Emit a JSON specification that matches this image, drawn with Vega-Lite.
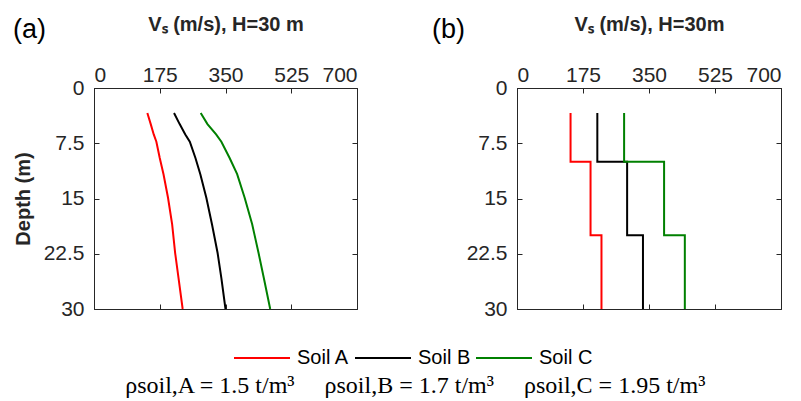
{
  "$schema": "https://vega.github.io/schema/vega-lite/v6.json",
  "background": "white",
  "padding": {"left": 12, "top": 13, "right": 5, "bottom": 0},
  "config": {
    "font": "Liberation Sans",
    "view": {"stroke": "#262626", "strokeWidth": 1},
    "axis": {
      "grid": false,
      "domainColor": "#262626",
      "tickColor": "#262626",
      "labelColor": "#262626",
      "titleColor": "#262626",
      "labelFontSize": 21,
      "titleFontSize": 20,
      "titleFontWeight": "bold",
      "tickSize": -5,
      "labelPadding": 8
    },
    "axisTop": {"titlePadding": 30},
    "axisLeft": {"titlePadding": 10, "labelPadding": 15}
  },
  "datasets": {
    "profiles": [
      {"panel": "a", "soil": "Soil A", "seq": 1, "depth": 3.4, "vs": 142},
      {"panel": "a", "soil": "Soil A", "seq": 2, "depth": 4.9, "vs": 151},
      {"panel": "a", "soil": "Soil A", "seq": 3, "depth": 6.3, "vs": 159},
      {"panel": "a", "soil": "Soil A", "seq": 4, "depth": 7.3, "vs": 166},
      {"panel": "a", "soil": "Soil A", "seq": 5, "depth": 9.5, "vs": 175},
      {"panel": "a", "soil": "Soil A", "seq": 6, "depth": 11.7, "vs": 185},
      {"panel": "a", "soil": "Soil A", "seq": 7, "depth": 14.9, "vs": 197},
      {"panel": "a", "soil": "Soil A", "seq": 8, "depth": 18.5, "vs": 208},
      {"panel": "a", "soil": "Soil A", "seq": 9, "depth": 22.4, "vs": 216},
      {"panel": "a", "soil": "Soil A", "seq": 10, "depth": 25.8, "vs": 225},
      {"panel": "a", "soil": "Soil A", "seq": 11, "depth": 30, "vs": 236},
      {"panel": "a", "soil": "Soil B", "seq": 1, "depth": 3.4, "vs": 213},
      {"panel": "a", "soil": "Soil B", "seq": 2, "depth": 4.9, "vs": 228},
      {"panel": "a", "soil": "Soil B", "seq": 3, "depth": 6.3, "vs": 243},
      {"panel": "a", "soil": "Soil B", "seq": 4, "depth": 7.3, "vs": 255},
      {"panel": "a", "soil": "Soil B", "seq": 5, "depth": 9.5, "vs": 270},
      {"panel": "a", "soil": "Soil B", "seq": 6, "depth": 11.7, "vs": 283},
      {"panel": "a", "soil": "Soil B", "seq": 7, "depth": 14.9, "vs": 299},
      {"panel": "a", "soil": "Soil B", "seq": 8, "depth": 18.5, "vs": 314},
      {"panel": "a", "soil": "Soil B", "seq": 9, "depth": 22.4, "vs": 329},
      {"panel": "a", "soil": "Soil B", "seq": 10, "depth": 25.8, "vs": 339},
      {"panel": "a", "soil": "Soil B", "seq": 11, "depth": 30, "vs": 350},
      {"panel": "a", "soil": "Soil C", "seq": 1, "depth": 3.4, "vs": 284},
      {"panel": "a", "soil": "Soil C", "seq": 2, "depth": 4.9, "vs": 302},
      {"panel": "a", "soil": "Soil C", "seq": 3, "depth": 6.3, "vs": 325},
      {"panel": "a", "soil": "Soil C", "seq": 4, "depth": 7.3, "vs": 339},
      {"panel": "a", "soil": "Soil C", "seq": 5, "depth": 9.5, "vs": 361},
      {"panel": "a", "soil": "Soil C", "seq": 6, "depth": 11.7, "vs": 381},
      {"panel": "a", "soil": "Soil C", "seq": 7, "depth": 14.9, "vs": 401},
      {"panel": "a", "soil": "Soil C", "seq": 8, "depth": 18.5, "vs": 421},
      {"panel": "a", "soil": "Soil C", "seq": 9, "depth": 22.4, "vs": 438},
      {"panel": "a", "soil": "Soil C", "seq": 10, "depth": 25.8, "vs": 452},
      {"panel": "a", "soil": "Soil C", "seq": 11, "depth": 30, "vs": 469},
      {"panel": "b", "soil": "Soil A", "seq": 1, "depth": 3.4, "vs": 142},
      {"panel": "b", "soil": "Soil A", "seq": 2, "depth": 10, "vs": 142},
      {"panel": "b", "soil": "Soil A", "seq": 3, "depth": 10, "vs": 195},
      {"panel": "b", "soil": "Soil A", "seq": 4, "depth": 20, "vs": 195},
      {"panel": "b", "soil": "Soil A", "seq": 5, "depth": 20, "vs": 224},
      {"panel": "b", "soil": "Soil A", "seq": 6, "depth": 30, "vs": 224},
      {"panel": "b", "soil": "Soil B", "seq": 1, "depth": 3.4, "vs": 213},
      {"panel": "b", "soil": "Soil B", "seq": 2, "depth": 10, "vs": 213},
      {"panel": "b", "soil": "Soil B", "seq": 3, "depth": 10, "vs": 292},
      {"panel": "b", "soil": "Soil B", "seq": 4, "depth": 20, "vs": 292},
      {"panel": "b", "soil": "Soil B", "seq": 5, "depth": 20, "vs": 334},
      {"panel": "b", "soil": "Soil B", "seq": 6, "depth": 30, "vs": 334},
      {"panel": "b", "soil": "Soil C", "seq": 1, "depth": 3.4, "vs": 284},
      {"panel": "b", "soil": "Soil C", "seq": 2, "depth": 10, "vs": 284},
      {"panel": "b", "soil": "Soil C", "seq": 3, "depth": 10, "vs": 390},
      {"panel": "b", "soil": "Soil C", "seq": 4, "depth": 20, "vs": 390},
      {"panel": "b", "soil": "Soil C", "seq": 5, "depth": 20, "vs": 445},
      {"panel": "b", "soil": "Soil C", "seq": 6, "depth": 30, "vs": 445}
    ]
  },
  "title": {
    "text": "ρsoil,A = 1.5 t/m³\u00a0\u00a0\u00a0\u00a0\u00a0ρsoil,B = 1.7 t/m³\u00a0\u00a0\u00a0\u00a0\u00a0ρsoil,C = 1.95 t/m³",
    "orient": "bottom",
    "anchor": "middle",
    "font": "Liberation Serif",
    "fontSize": 24,
    "fontWeight": "normal",
    "color": "black",
    "offset": 6,
    "dx": 18
  },
  "spacing": 160,
  "bounds": "flush",
  "resolve": {"scale": {"color": "shared"}, "legend": {"color": "shared"}},
  "hconcat": [
    {
      "width": 263,
      "height": 221,
      "title": {"text": "(a)", "anchor": "start", "frame": "group", "fontSize": 27, "fontWeight": "normal", "color": "black", "dx": -81, "dy": 34},
      "data": {"name": "profiles"},
      "transform": [{"filter": "datum.panel === 'a'"}],
      "layer": [
        {
          "mark": {"type": "line", "strokeWidth": 2},
          "encoding": {
            "x": {"field": "vs", "type": "quantitative", "scale": {"domain": [0, 700], "nice": false, "zero": false},
                  "axis": {"orient": "top", "values": [0, 175, 350, 525, 700], "title": "Vₛ (m/s), H=30 m"}},
            "y": {"field": "depth", "type": "quantitative", "scale": {"domain": [0, 30], "reverse": true, "nice": false},
                  "axis": {"orient": "left", "values": [0, 7.5, 15, 22.5, 30], "format": ".3~g", "title": "Depth (m)"}},
            "color": {"field": "soil", "type": "nominal",
                      "scale": {"domain": ["Soil A", "Soil B", "Soil C"], "range": ["#ff0000", "#000000", "#008000"]},
                      "legend": {"orient": "none", "legendX": 139, "legendY": 241, "direction": "horizontal", "title": null,
                                 "symbolType": "stroke", "symbolSize": 3136, "symbolStrokeWidth": 2,
                                 "labelFontSize": 20, "labelColor": "black", "columnPadding": 1, "labelOffset": 6}},
            "detail": {"field": "soil"},
            "order": {"field": "seq", "type": "quantitative"}
          }
        },
        {
          "mark": {"type": "point", "opacity": 0},
          "encoding": {
            "x": {"field": "vs", "type": "quantitative", "axis": {"orient": "bottom", "values": [0, 175, 350, 525, 700], "labels": false, "title": null, "domain": false}},
            "y": {"field": "depth", "type": "quantitative", "axis": {"orient": "right", "values": [0, 7.5, 15, 22.5, 30], "labels": false, "title": null, "domain": false}}
          }
        }
      ],
      "resolve": {"axis": {"x": "independent", "y": "independent"}}
    },
    {
      "width": 264,
      "height": 221,
      "title": {"text": "(b)", "anchor": "start", "frame": "group", "fontSize": 27, "fontWeight": "normal", "color": "black", "dx": -85, "dy": 34},
      "data": {"name": "profiles"},
      "transform": [{"filter": "datum.panel === 'b'"}],
      "layer": [
        {
          "mark": {"type": "line", "strokeWidth": 2},
          "encoding": {
            "x": {"field": "vs", "type": "quantitative", "scale": {"domain": [0, 700], "nice": false, "zero": false},
                  "axis": {"orient": "top", "values": [0, 175, 350, 525, 700], "title": "Vₛ (m/s), H=30m"}},
            "y": {"field": "depth", "type": "quantitative", "scale": {"domain": [0, 30], "reverse": true, "nice": false},
                  "axis": {"orient": "left", "values": [0, 7.5, 15, 22.5, 30], "format": ".3~g", "title": null}},
            "color": {"field": "soil", "type": "nominal",
                      "scale": {"domain": ["Soil A", "Soil B", "Soil C"], "range": ["#ff0000", "#000000", "#008000"]}},
            "detail": {"field": "soil"},
            "order": {"field": "seq", "type": "quantitative"}
          }
        },
        {
          "mark": {"type": "point", "opacity": 0},
          "encoding": {
            "x": {"field": "vs", "type": "quantitative", "axis": {"orient": "bottom", "values": [0, 175, 350, 525, 700], "labels": false, "title": null, "domain": false}},
            "y": {"field": "depth", "type": "quantitative", "axis": {"orient": "right", "values": [0, 7.5, 15, 22.5, 30], "labels": false, "title": null, "domain": false}}
          }
        }
      ],
      "resolve": {"axis": {"x": "independent", "y": "independent"}}
    }
  ]
}
